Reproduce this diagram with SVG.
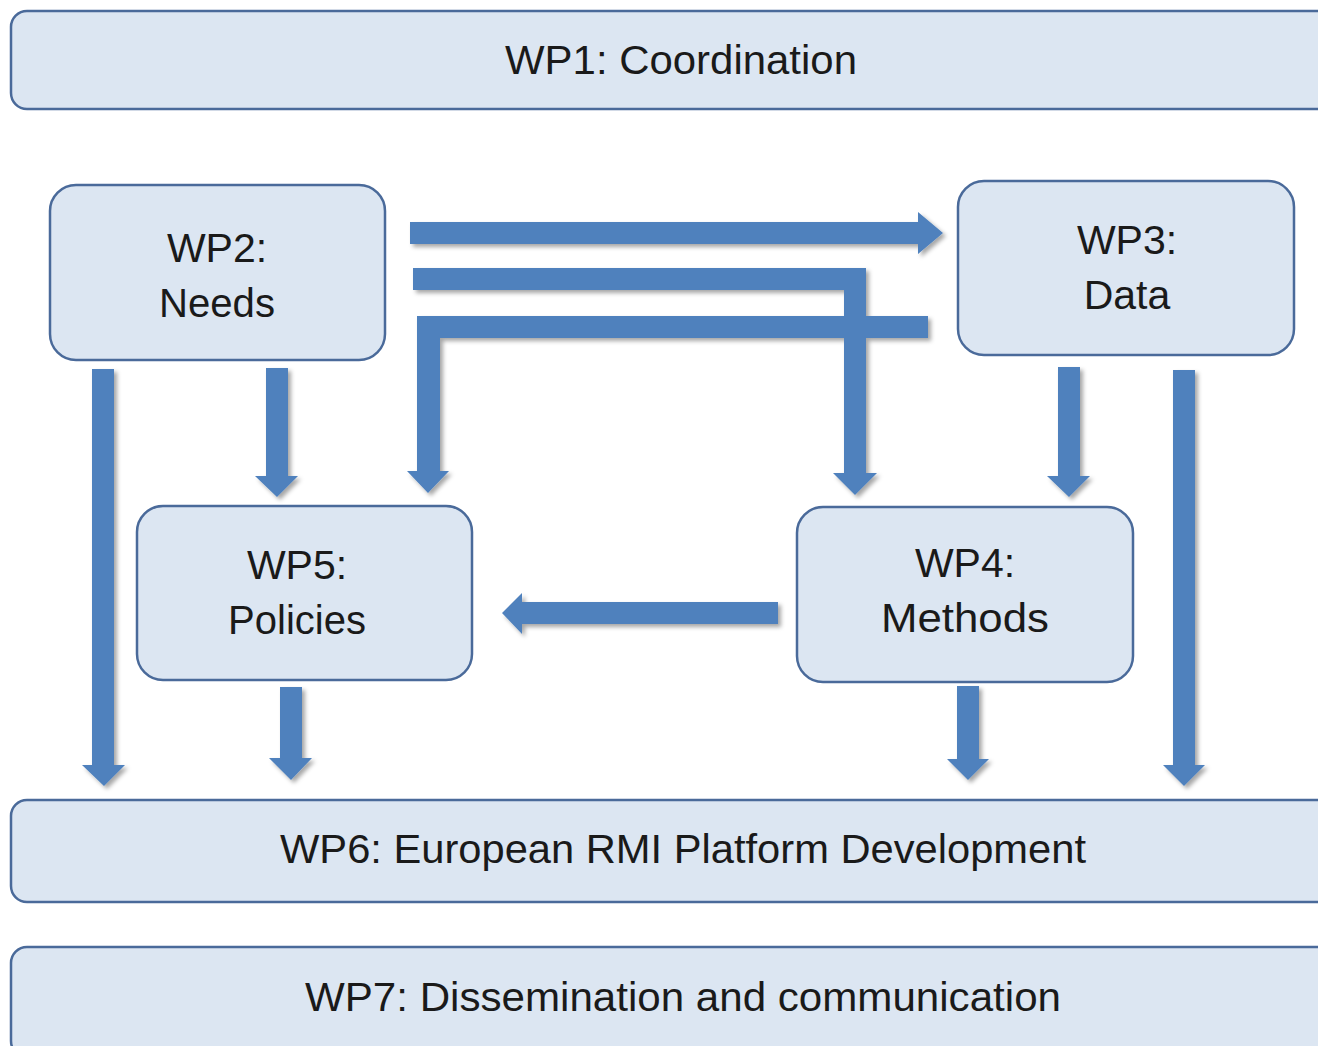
<svg xmlns="http://www.w3.org/2000/svg" width="1318" height="1046" viewBox="0 0 1318 1046">
<style>
.box{fill:#DCE6F2;stroke:#4A6A9A;stroke-width:2.5}
.t{font-family:"Liberation Sans",Arial,sans-serif;font-size:41px;fill:#1a1a1a;text-anchor:middle}
.arr{fill:#4F81BD}
</style>
<defs>
<filter id="sh" x="-20%" y="-20%" width="140%" height="140%">
<feDropShadow dx="3" dy="3" stdDeviation="2" flood-color="#000" flood-opacity="0.35"/>
</filter>
</defs>
<rect width="1318" height="1046" fill="#fff"/>
<g id="wp1"><rect class="box" x="11" y="11" width="1330" height="98" rx="16"/><text class="t" x="681" y="74" textLength="352" lengthAdjust="spacingAndGlyphs">WP1: Coordination</text></g>
<g id="wp2"><rect class="box" x="50" y="185" width="335" height="175" rx="26"/><text class="t" x="217" y="262">WP2:</text><text class="t" x="217" y="317" textLength="116" lengthAdjust="spacingAndGlyphs">Needs</text></g>
<g id="wp3"><rect class="box" x="958" y="181" width="336" height="174" rx="26"/><text class="t" x="1127" y="254">WP3:</text><text class="t" x="1127" y="309">Data</text></g>
<g id="wp5"><rect class="box" x="137" y="506" width="335" height="174" rx="26"/><text class="t" x="297" y="579">WP5:</text><text class="t" x="297" y="634" textLength="138" lengthAdjust="spacingAndGlyphs">Policies</text></g>
<g id="wp4"><rect class="box" x="797" y="507" width="336" height="175" rx="26"/><text class="t" x="965" y="577">WP4:</text><text class="t" x="965" y="632" textLength="168" lengthAdjust="spacingAndGlyphs">Methods</text></g>
<g id="wp6"><rect class="box" x="11" y="800" width="1330" height="102" rx="16"/><text class="t" x="683" y="863" textLength="806" lengthAdjust="spacingAndGlyphs">WP6: European RMI Platform Development</text></g>
<g id="wp7"><rect class="box" x="11" y="947" width="1330" height="110" rx="16"/><text class="t" x="683" y="1011" textLength="756" lengthAdjust="spacingAndGlyphs">WP7: Dissemination and communication</text></g>
<g id="connectors" class="arr" filter="url(#sh)">
<path d="M410,222 H918 V212 L943,233 L918,254 V244 H410 Z"/>
<path d="M413,268 H866 V473 H877 L855,495 L833,473 H844 V290 H413 Z"/>
<path d="M928,316 V338 H440 V471 H449 L428,493 L407,471 H417 V316 Z"/>
<path d="M92,369 H114 V765 H125 L104,786 L82,765 H92 Z"/>
<path d="M266,368 H288 V476 H298 L277,497 L255,476 H266 Z"/>
<path d="M1058,367 H1080 V476 H1090 L1069,497 L1047,476 H1058 Z"/>
<path d="M1173,370 H1195 V765 H1205 L1184,786 L1163,765 H1173 Z"/>
<path d="M778,602 V624 H522 V634 L502,613 L522,593 V602 Z"/>
<path d="M280,687 H302 V758 H312 L291,780 L269,758 H280 Z"/>
<path d="M957,686 H979 V759 H989 L968,780 L947,759 H957 Z"/>
</g>
</svg>
